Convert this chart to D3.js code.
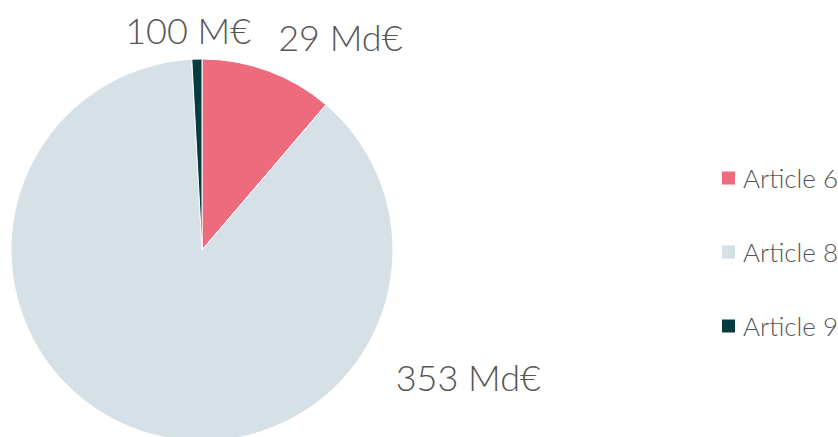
<!DOCTYPE html>
<html>
<head>
<meta charset="utf-8">
<script src="https://cdn.jsdelivr.net/npm/d3@7"></script>
<style>
  body { margin: 0; background: #fff; }
  svg text { font-family: "Lato", "Open Sans", sans-serif; font-weight: 300; fill: #555; }
</style>
</head>
<body>
<div id="pieChart"></div>
<script>
// DATA
const categories = ["Article 6", "Article 8", "Article 9"];
const shares = [11.25, 87.9, 0.85];          // share of the pie
const valueLabels = ["29 Md€", "353 Md€", "100 M€"];
const colors = ["#ee6b7d", "#d6e0e7", "#053c41"];

// LAYOUT
const width = 838, height = 437;
const cx = 202, cy = 250, radius = 191;
// where each value label sits: [angle in degrees from 12 o'clock, distance from centre]
const labelSpots = [[33, 254], [115.5, 295], [-3.6, 220]];

const svg = d3.select("#pieChart")
    .append("svg")
    .attr("width", width)
    .attr("height", height);

const g = svg.append("g")
    .attr("transform", `translate(${cx},${cy})`);

const data = categories.map((c, i) => ({ name: c, share: shares[i], label: valueLabels[i], color: colors[i] }));

const pie = d3.pie()
    .value(d => d.share)
    .sort(null);

const arc = d3.arc()
    .innerRadius(0)
    .outerRadius(radius);

const arcs = pie(data);

g.selectAll("path")
    .data(arcs)
    .enter()
    .append("path")
    .attr("d", arc)
    .attr("fill", d => d.data.color)
    .attr("stroke", "#fff")
    .attr("stroke-width", 1);

// value labels
g.selectAll(".val")
    .data(arcs)
    .enter()
    .append("text")
    .attr("class", "val")
    .attr("x", (d, i) => labelSpots[i][1] * Math.sin(labelSpots[i][0] * Math.PI / 180))
    .attr("y", (d, i) => -labelSpots[i][1] * Math.cos(labelSpots[i][0] * Math.PI / 180))
    .attr("text-anchor", "middle")
    .attr("dominant-baseline", "central")
    .style("font-size", "36px")
    .text(d => d.data.label);

// legend
const legendY = d3.scalePoint()
    .domain(categories)
    .range([178, 326]);

const legend = svg.append("g")
    .attr("transform", "translate(722,0)");

const item = legend.selectAll("g")
    .data(data)
    .enter()
    .append("g")
    .attr("transform", d => `translate(0,${legendY(d.name)})`);

item.append("rect")
    .attr("x", 0)
    .attr("y", -6.5)
    .attr("width", 13)
    .attr("height", 13)
    .attr("fill", d => d.color);

item.append("text")
    .attr("x", 21)
    .attr("y", 0)
    .attr("dominant-baseline", "central")
    .style("font-size", "26px")
    .text(d => d.name);
</script>
</body>
</html>
